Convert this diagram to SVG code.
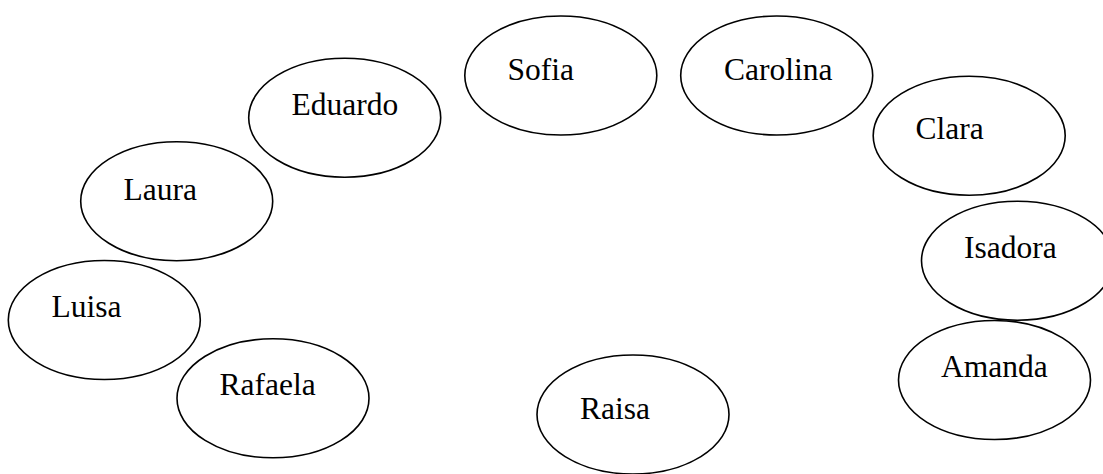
<svg xmlns="http://www.w3.org/2000/svg" width="1103" height="474" viewBox="0 0 1103 474">
<style>
.n ellipse{fill:#fff;stroke:#000;stroke-width:1.6}
.n text{font-family:"Liberation Serif","Times New Roman",serif;font-size:31.5px;fill:#000}
</style>
<rect width="1103" height="474" fill="#fff"/>
<g id="connectors"></g>
<g id="eduardo" class="n"><ellipse cx="344.7" cy="117.7" rx="96" ry="59.5"/><text x="291.5" y="115">Eduardo</text></g>
<g id="sofia" class="n"><ellipse cx="560.8" cy="75.5" rx="96" ry="59.5"/><text x="507.5" y="80">Sofia</text></g>
<g id="carolina" class="n"><ellipse cx="776.7" cy="75.5" rx="96" ry="59.5"/><text x="724" y="80">Carolina</text></g>
<g id="clara" class="n"><ellipse cx="969.2" cy="135.7" rx="96" ry="59.5"/><text x="915.5" y="139">Clara</text></g>
<g id="laura" class="n"><ellipse cx="176.7" cy="201.2" rx="96" ry="59.5"/><text x="123.5" y="200">Laura</text></g>
<g id="isadora" class="n"><ellipse cx="1017.5" cy="260.7" rx="96" ry="59.5"/><text x="964" y="258.3">Isadora</text></g>
<g id="luisa" class="n"><ellipse cx="104.3" cy="320" rx="96" ry="59.5"/><text x="51.5" y="316.7">Luisa</text></g>
<g id="amanda" class="n"><ellipse cx="994.5" cy="380" rx="96" ry="59.5"/><text x="941" y="376.7">Amanda</text></g>
<g id="rafaela" class="n"><ellipse cx="273" cy="398.3" rx="96" ry="59.5"/><text x="219.5" y="395">Rafaela</text></g>
<g id="raisa" class="n"><ellipse cx="633" cy="414.5" rx="96" ry="59.5"/><text x="580" y="419.3">Raisa</text></g>
</svg>
